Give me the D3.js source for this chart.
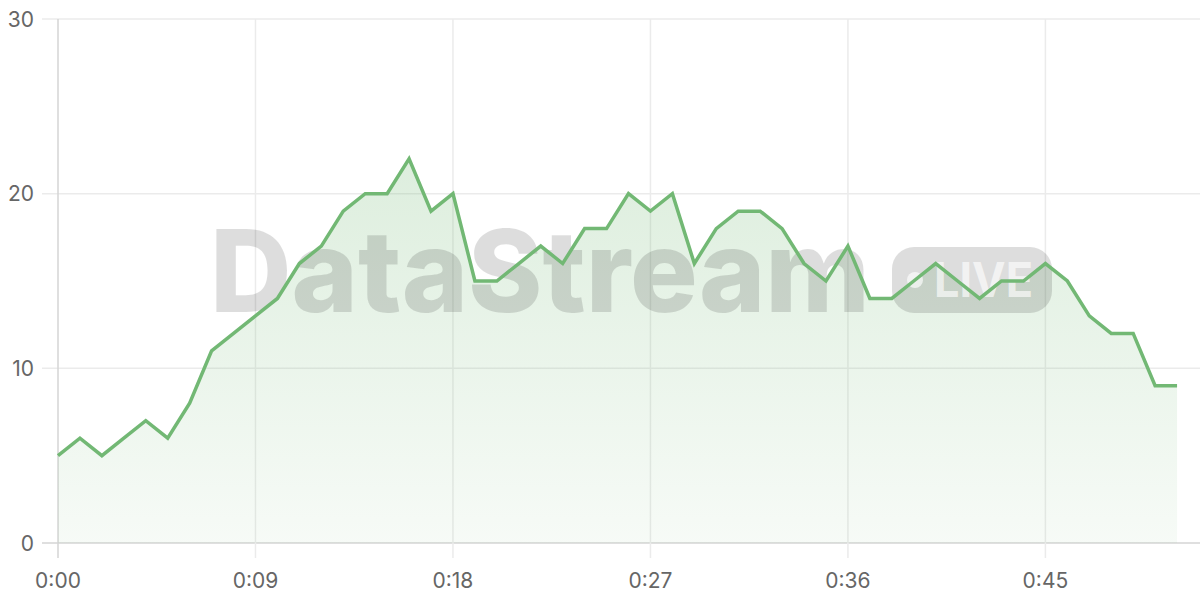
<!DOCTYPE html>
<html>
<head>
<meta charset="utf-8">
<script src="https://cdn.jsdelivr.net/npm/d3@7"></script>
<style>
  html, body { margin: 0; padding: 0; background: #fff; }
  svg { display: block; font-family: Inter, "Noto Sans", sans-serif; }
  .tickLabel { fill: #666; font-size: 21px; }
</style>
</head>
<body>
<svg id="chart"></svg>
<script>
// seconds since start, one sample per second
var seconds = d3.range(0, 52);
var counts = [5, 6, 5, 6, 7, 6, 8, 11, 12, 13,
              14, 16, 17, 19, 20, 20, 22, 19, 20, 15,
              15, 16, 17, 16, 18, 18, 20, 19, 20, 16,
              18, 19, 19, 18, 16, 15, 17, 14, 14, 15,
              16, 15, 14, 15, 15, 16, 15, 13, 12, 12,
              9, 9];
var xTicks = [0, 9, 18, 27, 36, 45];
var yTicks = [0, 10, 20, 30];
var brand = "DataStream";
var badge = "LIVE";

var svgWidth = 1200, svgHeight = 600;
var margin = { top: 19, right: 0, bottom: 57, left: 58 };

var svg = d3.select("#chart")
    .attr("width", svgWidth)
    .attr("height", svgHeight);

var data = seconds.map(function (s, i) { return { t: s, v: counts[i] }; });

var x = d3.scaleLinear().domain([0, 52]).range([margin.left, 1199]);
var y = d3.scaleLinear().domain([0, 30]).range([svgHeight - margin.bottom, margin.top]);

function fmt(s) {
    return Math.floor(s / 60) + ":" + d3.format("02d")(s % 60);
}

// gradient for the area
var defs = svg.append("defs");
var grad = defs.append("linearGradient")
    .attr("id", "areaFill")
    .attr("x1", 0).attr("y1", 0).attr("x2", 0).attr("y2", 1);
grad.append("stop").attr("offset", "0%").attr("stop-color", "#72b874").attr("stop-opacity", 0.24);
grad.append("stop").attr("offset", "100%").attr("stop-color", "#72b874").attr("stop-opacity", 0.06);

// grid
var grid = svg.append("g").attr("class", "grid");
grid.selectAll("line.h")
    .data(yTicks)
    .enter().append("line")
    .attr("x1", 42).attr("x2", svgWidth)
    .attr("y1", d => y(d)).attr("y2", d => y(d))
    .attr("stroke", d => d === 0 ? "#d4d4d4" : "#ebebeb")
    .attr("stroke-width", 1.5);
grid.selectAll("line.v")
    .data(xTicks)
    .enter().append("line")
    .attr("x1", d => x(d)).attr("x2", d => x(d))
    .attr("y1", y(30)).attr("y2", y(0) + 15)
    .attr("stroke", d => d === 0 ? "#d4d4d4" : "#ebebeb")
    .attr("stroke-width", 1.5);

// area under the line
var area = d3.area()
    .x(d => x(d.t))
    .y0(y(0))
    .y1(d => y(d.v));

svg.append("path")
    .datum(data)
    .attr("fill", "url(#areaFill)")
    .attr("d", area);

// watermark
var wm = svg.append("g").attr("class", "watermark");
wm.append("text")
    .attr("x", 210)
    .attr("y", 312)
    .attr("textLength", 660)
    .attr("lengthAdjust", "spacingAndGlyphs")
    .attr("font-family", "Inter, 'Open Sans', sans-serif")
    .attr("font-weight", 800)
    .attr("font-size", 114)
    .attr("fill", "#000")
    .attr("fill-opacity", 0.135)
    .text(brand);
wm.append("rect")
    .attr("x", 892).attr("y", 247)
    .attr("width", 160).attr("height", 66)
    .attr("rx", 22)
    .attr("fill", "#000")
    .attr("fill-opacity", 0.135);
wm.append("circle")
    .attr("cx", 915).attr("cy", 280).attr("r", 8)
    .attr("fill", "#fff").attr("fill-opacity", 0.65);
wm.append("text")
    .attr("x", 934)
    .attr("y", 297)
    .attr("textLength", 99)
    .attr("lengthAdjust", "spacingAndGlyphs")
    .attr("font-family", "Inter, 'Open Sans', sans-serif")
    .attr("font-weight", 700)
    .attr("font-size", 48)
    .attr("fill", "#fff")
    .attr("fill-opacity", 0.65)
    .text(badge);

// line
var line = d3.line()
    .x(d => x(d.t))
    .y(d => y(d.v));

svg.append("path")
    .datum(data)
    .attr("fill", "none")
    .attr("stroke", "#72b874")
    .attr("stroke-width", 3.5)
    .attr("stroke-linejoin", "miter")
    .attr("d", line);

// tick labels
svg.append("g")
    .selectAll("text")
    .data(yTicks)
    .enter().append("text")
    .attr("class", "tickLabel")
    .attr("x", 34)
    .attr("y", d => y(d))
    .attr("dy", "0.36em")
    .attr("text-anchor", "end")
    .text(d => d);

svg.append("g")
    .selectAll("text")
    .data(xTicks)
    .enter().append("text")
    .attr("class", "tickLabel")
    .attr("x", d => x(d))
    .attr("y", 588)
    .attr("text-anchor", "middle")
    .text(d => fmt(d));
</script>
</body>
</html>
